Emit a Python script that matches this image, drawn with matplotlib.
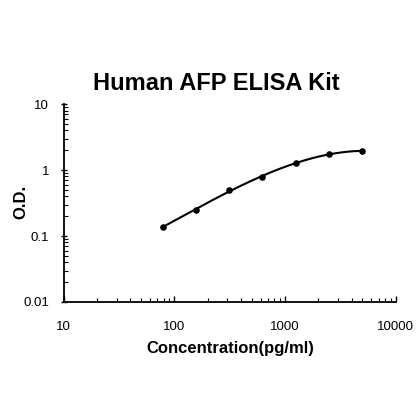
import numpy as np
import matplotlib.pyplot as plt
from matplotlib.ticker import LogLocator, NullFormatter, FixedFormatter, FixedLocator

plt.rcParams['font.family'] = ['Liberation Sans', 'DejaVu Sans']

# Datos del estándar
conc = [78.125, 156.25, 312.5, 625, 1250, 2500, 5000]
od = [0.138, 0.248, 0.50, 0.79, 1.29, 1.73, 1.96]
xticks = [10, 100, 1000, 10000]
xtick_labels = ['10', '100', '1000', '10000']
yticks = [0.01, 0.1, 1, 10]
ytick_labels = ['0.01', '0.1', '1', '10']

fig = plt.figure(figsize=(4.2, 4.2), dpi=100)
ax = fig.add_axes([0.152, 0.281, 0.790, 0.471])

# Curva ajustada en escala log-log
lx = np.log10(conc)
ly = np.log10(od)
coef = np.polyfit(lx, ly, 3)
xs = np.linspace(lx[0], lx[-1], 200)
ax.plot(10 ** xs, 10 ** np.polyval(coef, xs), color='black', linewidth=1.5)
ax.scatter(conc, od, color='black', s=14, zorder=5)

ax.set_xscale('log')
ax.set_yscale('log')
ax.set_xlim(10, 10000)
ax.set_ylim(0.01, 10)

ax.xaxis.set_major_locator(FixedLocator(xticks))
ax.xaxis.set_major_formatter(FixedFormatter(xtick_labels))
ax.yaxis.set_major_locator(FixedLocator(yticks))
ax.yaxis.set_major_formatter(FixedFormatter(ytick_labels))
ax.xaxis.set_minor_locator(LogLocator(base=10, subs=np.arange(2, 10), numticks=20))
ax.yaxis.set_minor_locator(LogLocator(base=10, subs=np.arange(2, 10), numticks=20))
ax.xaxis.set_minor_formatter(NullFormatter())
ax.yaxis.set_minor_formatter(NullFormatter())

for s in ['top', 'right']:
    ax.spines[s].set_visible(False)
for s in ['left', 'bottom']:
    ax.spines[s].set_linewidth(1.3)

ax.tick_params(axis='x', which='major', direction='in', length=4, width=1, pad=14, labelsize=9.5)
ax.tick_params(axis='y', which='major', direction='inout', length=5, width=1, pad=8, labelsize=9.5)
ax.tick_params(which='minor', direction='in', length=3, width=0.8)

fig.text(216 / 420, 1 - 83 / 420, 'Human AFP ELISA Kit', fontsize=17, fontweight='bold',
         ha='center', va='center')
fig.text(230 / 420, 1 - 348 / 420, 'Concentration(pg/ml)', fontsize=12, fontweight='bold',
         ha='center', va='center')
fig.text(21 / 420, 1 - 202 / 420, 'O.D.', fontsize=12, fontweight='bold',
         ha='center', va='center', rotation=90)

plt.savefig('out.png', dpi=100)
